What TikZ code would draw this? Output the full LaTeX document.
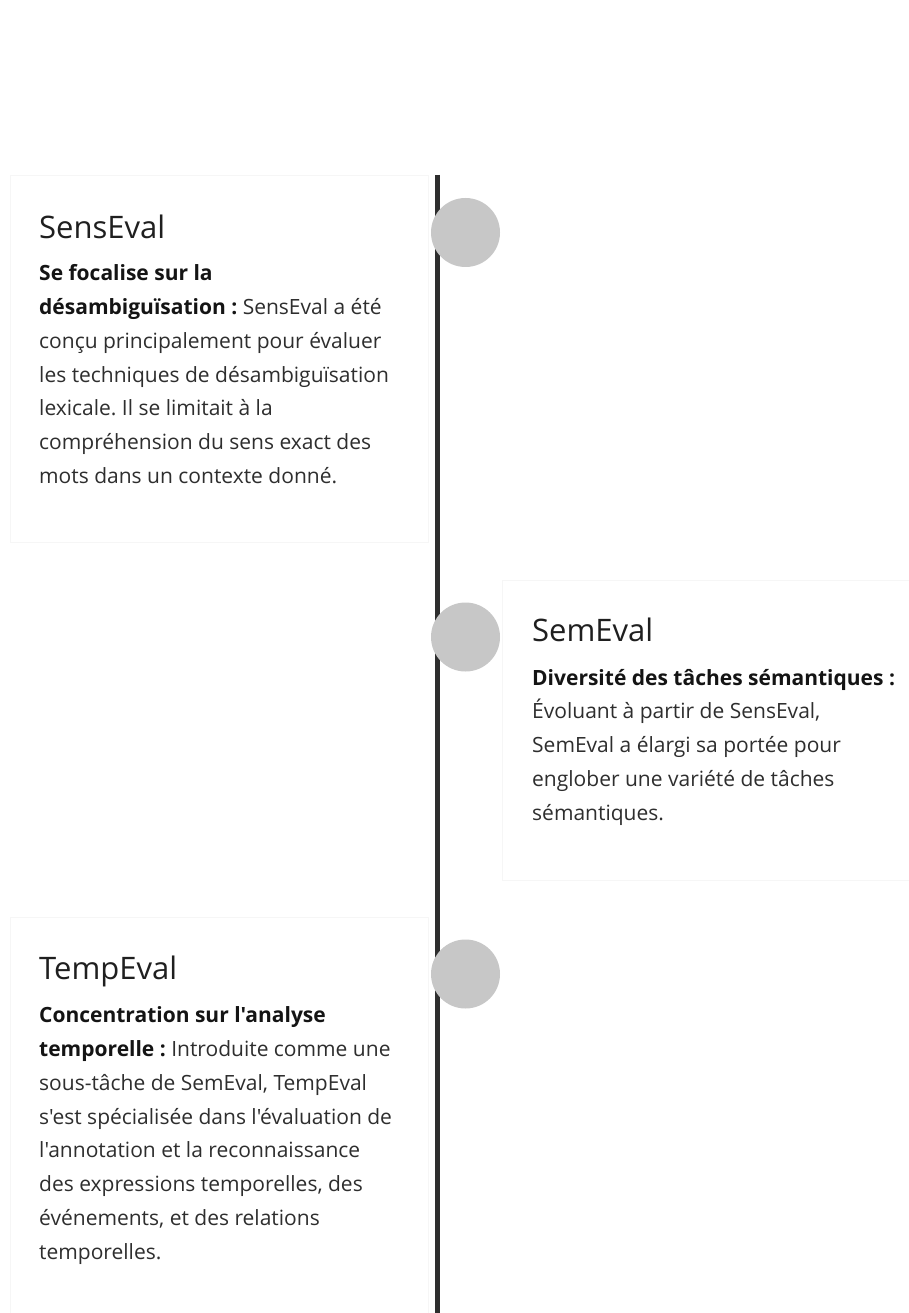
\documentclass[tikz,border=0pt]{standalone}
\usepackage{fontspec}
\setmainfont{Open Sans}[Ligatures=TeXOff]
\frenchspacing
\begin{document}
\begin{tikzpicture}[x=1pt,y=-1pt,
  card/.style={draw=black!3.5,line width=0.8pt},
  dot/.style={circle,fill=black!22,draw=none,minimum size=69pt,inner sep=0pt},
  title/.style={anchor=base west,inner sep=0pt,text=black!88,font=\fontsize{31}{36}\selectfont},
  body/.style={anchor=base west,inner sep=0pt,text=black!82,font=\fontsize{21}{24}\selectfont},
  strong/.style={body,text=black!92,font=\fontsize{21}{24}\selectfont\bfseries},
  axis/.style={line width=5pt,draw=black!82}
]
\useasboundingbox (0,0) rectangle (909,1313);
\fill[white] (0,0) rectangle (909,1313);

% cards
\draw[card] (10,175) rectangle (428,542);
\draw[card] (909,580) -- (502,580) -- (502,880) -- (909,880);
\draw[card] (10,1320) -- (10,917) -- (428,917) -- (428,1320);

% timeline
\coordinate (top) at (437.5,175);
\coordinate (bot) at (437.5,1313);
\draw[axis] (top) -- (bot);

\node[dot] (c1) at (465.5,232.5) {};
\node[dot] (c2) at (465.5,637) {};
\node[dot] (c3) at (465.5,974) {};

% card 1
\node[title] (t1) at (39,238.3) {SensEval};
\node[strong] (b1a) at (39,280.7) {Se focalise sur la};
\node[body] (b1b) at (39,314.5) {\textbf{\color{black!92}désambiguïsation :} SensEval a été};
\node[body] (b1c) at (39,348.3) {conçu principalement pour évaluer};
\node[body] (b1d) at (39,382.1) {les techniques de désambiguïsation};
\node[body] (b1e) at (39,415.9) {lexicale. Il se limitait à la};
\node[body] (b1f) at (39,449.7) {compréhension du sens exact des};
\node[body] (b1g) at (39,483.5) {mots dans un contexte donné.};

% card 2
\node[title] (t2) at (532,641.7) {SemEval};
\node[strong] (b2a) at (532,685) {Diversité des tâches sémantiques :};
\node[body] (b2b) at (532,718.8) {Évoluant à partir de SensEval,};
\node[body] (b2c) at (532,752.6) {SemEval a élargi sa portée pour};
\node[body] (b2d) at (532,786.4) {englober une variété de tâches};
\node[body] (b2e) at (532,820.2) {sémantiques.};

% card 3
\node[title] (t3) at (39,979.3) {TempEval};
\node[strong] (b3a) at (39,1022.7) {Concentration sur l'analyse};
\node[body] (b3b) at (39,1056.5) {\textbf{\color{black!92}temporelle :} Introduite comme une};
\node[body] (b3c) at (39,1090.3) {sous-tâche de SemEval, TempEval};
\node[body] (b3d) at (39,1124.1) {s'est spécialisée dans l'évaluation de};
\node[body] (b3e) at (39,1157.9) {l'annotation et la reconnaissance};
\node[body] (b3f) at (39,1191.7) {des expressions temporelles, des};
\node[body] (b3g) at (39,1225.5) {événements, et des relations};
\node[body] (b3h) at (39,1259.3) {temporelles.};
\end{tikzpicture}
\end{document}
